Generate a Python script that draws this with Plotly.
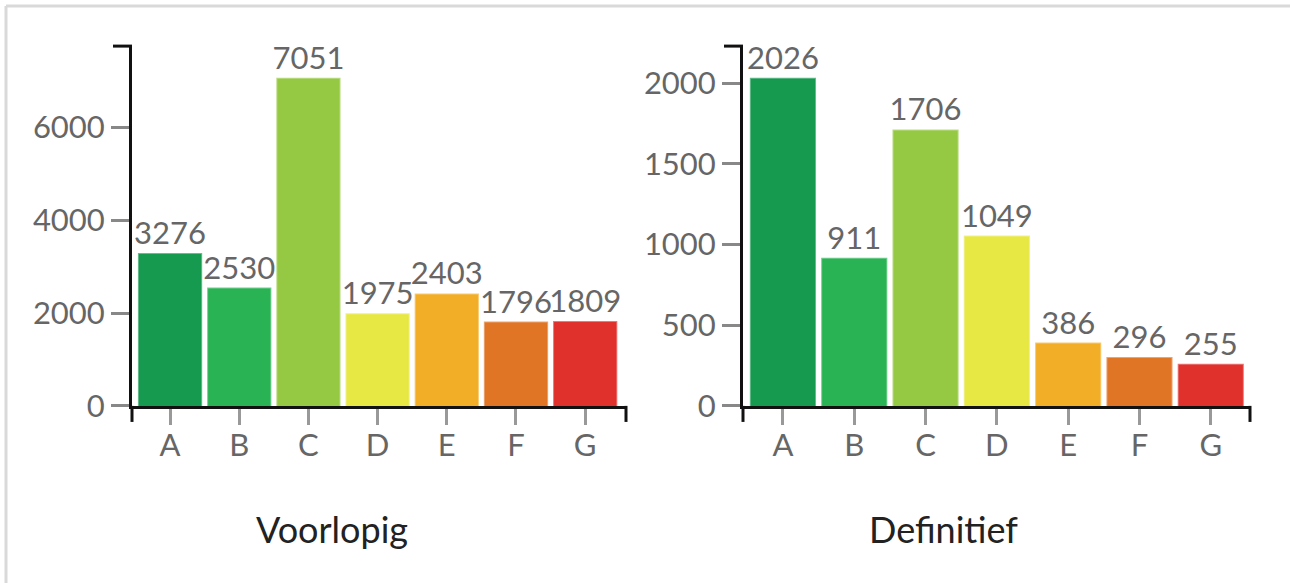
import plotly.graph_objects as go

categories = ["A", "B", "C", "D", "E", "F", "G"]
voorlopig = [3276, 2530, 7051, 1975, 2403, 1796, 1809]
definitief = [2026, 911, 1706, 1049, 386, 296, 255]
colors = ["#159a4f", "#2ab354", "#96c943", "#e8e845", "#f2ae26", "#e07526", "#e0312c"]
line_colors = ["rgba(21,154,79,0.65)", "rgba(42,179,84,0.65)", "rgba(150,201,67,0.65)",
               "rgba(232,232,69,0.65)", "rgba(242,174,38,0.65)", "rgba(224,117,38,0.65)",
               "rgba(224,49,44,0.65)"]
titles = ["Voorlopig", "Definitief"]
y_dticks = [2000, 500]

W, H = 1290, 583
S = 0.967  # observed vertical scale of the rendered page
FONT = "Lato"
TICK_GREY = "#666666"

def px(x):
    return x / W

def py(y):
    return 1 - (y / S) / H

left_dom = (132, 626)
right_dom = (743, 1250)
top_px, bottom_px = 46, 405

fig = go.Figure()
for i, vals in enumerate([voorlopig, definitief]):
    fig.add_trace(go.Bar(
        x=categories, y=vals,
        xaxis="x" if i == 0 else "x2",
        yaxis="y" if i == 0 else "y2",
        marker=dict(color=colors, line=dict(color=line_colors, width=2)),
        width=0.9,
        text=[str(v) for v in vals],
        textposition="outside",
        textfont=dict(family=FONT, size=31, color=TICK_GREY),
        constraintext="none",
        cliponaxis=False,
        showlegend=False,
    ))

common_x = dict(
    type="category", showgrid=False, zeroline=False,
    showline=True, linecolor="#111111", linewidth=3,
    ticks="outside", ticklen=16, tickwidth=3, tickcolor="#999999",
    tickfont=dict(family=FONT, size=31, color=TICK_GREY),
    ticklabelstandoff=-6,
    fixedrange=True,
)
common_y = dict(
    showgrid=False, zeroline=False,
    showline=True, linecolor="#111111", linewidth=3,
    ticks="outside", ticklen=18, tickwidth=3, tickcolor="#888888",
    tickfont=dict(family=FONT, size=31, color=TICK_GREY),
    fixedrange=True,
)

ydom = [py(bottom_px), py(top_px)]
fig.update_layout(
    width=W, height=H, autosize=False,
    margin=dict(l=0, r=0, t=0, b=0, pad=0),
    paper_bgcolor="white", plot_bgcolor="white",
    xaxis=dict(common_x, domain=[px(left_dom[0]), px(left_dom[1])], anchor="y",
               range=[-0.55, 6.59]),
    yaxis=dict(common_y, domain=ydom, anchor="x",
               range=[0, max(voorlopig) * 1.1], dtick=y_dticks[0]),
    xaxis2=dict(common_x, domain=[px(right_dom[0]), px(right_dom[1])], anchor="y2",
                range=[-0.56, 6.55]),
    yaxis2=dict(common_y, domain=ydom, anchor="x2",
                range=[0, max(definitief) * 1.1], dtick=y_dticks[1]),
)

shapes = []
shapes.append(dict(type="line", xref="paper", yref="paper",
                   x0=px(6), x1=px(1295), y0=py(6), y1=py(6),
                   line=dict(color="#d9d9d9", width=3)))
shapes.append(dict(type="line", xref="paper", yref="paper",
                   x0=px(6), x1=px(6), y0=py(6), y1=-0.05,
                   line=dict(color="#d9d9d9", width=3)))
for (l, r) in [left_dom, right_dom]:
    shapes.append(dict(type="line", xref="paper", yref="paper",
                       x0=px(l - 19), x1=px(l), y0=py(top_px), y1=py(top_px),
                       line=dict(color="#111111", width=3)))
    for xx in (l, r):
        shapes.append(dict(type="line", xref="paper", yref="paper",
                           x0=px(xx), x1=px(xx), y0=py(bottom_px), y1=py(bottom_px + 16),
                           line=dict(color="#111111", width=3)))
fig.update_layout(shapes=shapes)

title_pos = [(332, 528), (943, 528)]
for t, (tx, ty) in zip(titles, title_pos):
    fig.add_annotation(text=t, x=px(tx), y=py(ty), xref="paper", yref="paper",
                       showarrow=False, xanchor="center", yanchor="middle",
                       font=dict(family=FONT, size=36, color="#222222"))

fig.write_html("out.html", config={"displayModeBar": False, "responsive": False},
               post_script="document.body.style.margin='0';document.body.style.overflow='hidden';")
